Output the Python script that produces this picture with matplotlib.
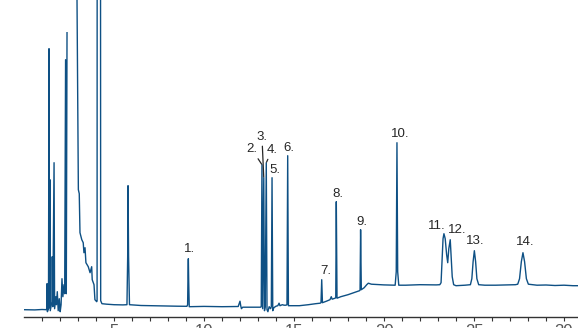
import numpy as np
import matplotlib
matplotlib.use("Agg")
import matplotlib.pyplot as plt

nan = np.nan

# Trace vertices (time in min, signal in arbitrary units)
trace_time = [
    0.0, 0.6, 1.0, 1.25,
    1.27, 1.28, 1.30, 1.36, 1.39, 1.41, 1.44, 1.46, 1.55, 1.57, 1.60, 1.67, 1.70,
    1.78, 1.80, 1.85, 1.90, 1.96, 2.01, 2.06, 2.11, 2.16, 2.22, 2.26, 2.31, 2.35, 2.39, 2.395,
    2.94, 3.02, 3.07, 3.11, 3.21, 3.29, 3.33, 3.39, 3.44, 3.57, 3.67, 3.76, 3.79, 3.89, 3.94,
    4.04, 4.06, 4.07, 4.24, 4.26, 4.33, 4.6, 5.0, 5.5,
    5.72, 5.76, 5.78, 5.81, 5.86,
    6.5, 7.5, 8.5, 9.05,
    9.09, 9.11, 9.13, 9.15, 9.18,
    10.0, 11.0, 11.9, 11.95, 12.0, 12.04, 12.08, 12.15, 12.5, 13.0, 13.15,
    13.18, 13.22, 13.26, 13.32, 13.36, 13.40, 13.46, 13.50, 13.55, 13.62, 13.70, 13.74,
    13.78, 13.82, 13.88, 14.0, 14.1, 14.17, 14.22, 14.35, 14.45, 14.55,
    14.61, 14.65, 14.69, 14.8, 15.3, 15.8, 16.2, 16.45,
    16.50, 16.54, 16.58, 16.8, 17.0, 17.07, 17.12, 17.28,
    17.32, 17.35, 17.39, 17.6, 18.0, 18.4, 18.64,
    18.67, 18.70, 18.74, 18.9, 19.04, 19.13, 19.3, 19.6, 20.0, 20.5,
    20.62, 20.68, 20.72, 20.76, 20.82, 21.2, 22.0, 22.6, 22.9,
    23.1, 23.17, 23.22, 23.28, 23.33, 23.40, 23.48, 23.54, 23.60, 23.68, 23.73, 23.79, 23.87,
    24.0, 24.5,
    24.8, 24.88, 24.95, 25.02, 25.09, 25.16, 25.26, 25.6, 26.2, 26.8, 27.3,
    27.43, 27.53, 27.63, 27.72, 27.81, 27.91, 28.02, 28.5, 29.0, 29.5, 30.0, 30.5, 31.0,
]
trace_signal = [
    7.0, 6.8, 7.2, 7.0,
    10, 33, 5, 8, 268, 9, 137, 6, 15, 60, 10, 154, 8,
    20, 12, 25, 6, 18, 5, 12, 38, 20, 32, 23, 257, 23, 284, nan,
    330, 127, 123, 84, 77, 74, 64, 69, 54, 50, 44, 50, 37, 32, 17,
    15, 16, 800, 800, 16, 13, 12.5, 12, 11.8,
    12, 60, 131, 60, 12,
    11.2, 10.8, 10.5, 10.4,
    12, 40, 58, 35, 10,
    10.3, 10.0, 10.2, 13, 15.5, 11, 8, 9.5, 9.5, 9.5, 9.5,
    10, 152, 8, 139, 6, 10, 154, 7, 5, 10, 8, 10,
    139, 6, 9, 10.5, 11, 13.5, 11, 12, 11.5, 11.5,
    12, 161, 11, 11, 11, 12, 13, 13.5,
    14, 37, 14, 15.5, 17, 20, 17.5, 18.5,
    19, 115, 18.5, 20, 22, 24.5, 26,
    26.5, 87, 27, 29, 32, 33.5, 32.5, 32.2, 31.8, 31.5,
    31.5, 45, 174, 45, 31.5, 31.5, 32, 31.8, 31.8,
    32, 34, 55, 78, 83, 78, 62, 54, 68, 77, 60, 40, 32,
    31, 31.5,
    32, 38, 55, 66, 55, 38, 32, 31.5, 31.5, 31.8, 32,
    32.5, 38, 55, 64, 55, 38, 32.5, 31.5, 31.7, 31.2, 31.5, 31, 31,
]

# Labelled peaks: name, retention time, apex signal
peak_names = ["1.", "2.", "3.", "4.", "5.", "6.", "7.", "8.", "9.", "10.", "11.", "12.", "13.", "14."]
peak_times = [9.13, 13.22, 13.32, 13.46, 13.78, 14.65, 16.54, 17.35, 18.70, 20.72, 23.33, 23.68, 25.02, 27.72]
peak_heights = [58, 152, 139, 154, 139, 161, 37, 115, 87, 174, 83, 77, 66, 64]

# label offsets from the apex (points) and which labels get a leader line
label_offsets = [(1.2, 7.2), (-7.2, 11), (-1.3, 29.5), (4.3, 9.2), (2.4, 5.6), (1.2, 5.6), (2.6, 6.6),
                 (1.2, 5.6), (1.2, 5.6), (2.4, 6.4), (-5.3, 5.9), (4.8, 7.3), (0.6, 7.0), (1.6, 7.8)]
leaders = {"2.", "3.", "4."}

line_color = "#0e5084"
text_color = "#262626"

fig = plt.figure(figsize=(5.78, 3.28), dpi=100)
ax = fig.add_axes([24 / 578, (328 - 316.7) / 328, 554 / 578, 316.7 / 328])

ax.plot(trace_time, trace_signal, color=line_color, lw=1.0, solid_joinstyle="round")

for name, t, h, (dx, dy) in zip(peak_names, peak_times, peak_heights, label_offsets):
    arrow = None
    if name in leaders:
        arrow = dict(arrowstyle="-", color=text_color, lw=0.9, shrinkA=0.5, shrinkB=0.5)
    ax.annotate(name, xy=(t, h), xytext=(dx, dy), textcoords="offset points",
                ha="center", va="center", fontsize=9.5, color=text_color,
                family="Liberation Sans", arrowprops=arrow)

ax.set_xlim(0, 554 / 18)
ax.set_ylim(0, 316.7)

for side in ["left", "top", "right"]:
    ax.spines[side].set_visible(False)
ax.spines["bottom"].set_color("#333333")
ax.spines["bottom"].set_linewidth(1.0)

ax.set_yticks([])
ax.set_xticks([5, 10, 15, 20, 25, 30])
ax.set_xticks(np.arange(1, 31), minor=True)
ax.tick_params(axis="x", which="major", length=3.2, width=0.8, color="#333333",
               labelsize=12, labelcolor="#555555", pad=1.8)
ax.tick_params(axis="x", which="minor", length=2.6, width=0.8, color="#333333")
for lbl in ax.get_xticklabels():
    lbl.set_family("Liberation Sans")

fig.savefig("out.png", dpi=100)
